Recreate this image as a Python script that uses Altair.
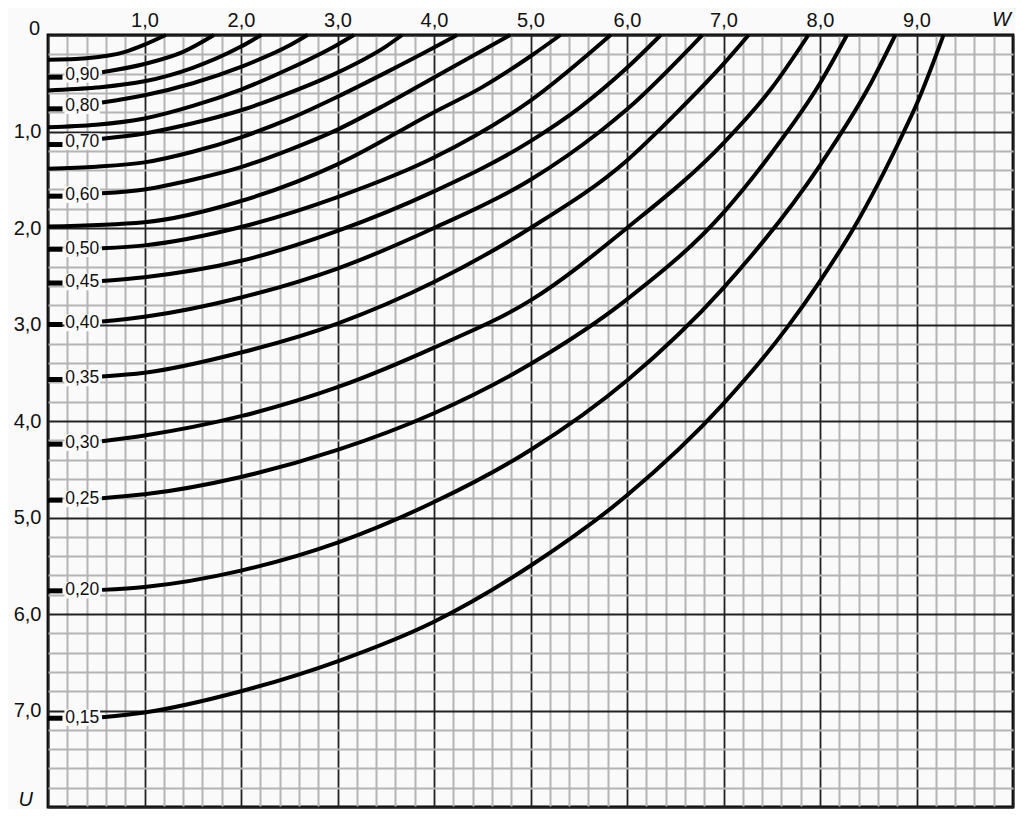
import altair as alt
import pandas as pd
import numpy as np

# ---------------- data ----------------
levels = ["0,95", "0,90", "0,85", "0,80", "0,75", "0,70", "0,65", "0,60", "0,55",
          "0,50", "0,45", "0,40", "0,35", "0,30", "0,25", "0,20", "0,15"]
labeled = [False, True, False, True, False, True, False, True, False,
           True, True, True, True, True, True, True, True]

w_095 = [0, 0.4, 0.8, 1.0, 1.22]
u_095 = [0.257, 0.24, 0.175, 0.10, 0.0]
w_090 = [0, 0.56, 1.0, 1.4, 1.72]
u_090 = [0.437, 0.385, 0.30, 0.175, 0.0]
w_085 = [0, 0.5, 1.0, 1.5, 2.0, 2.21]
u_085 = [0.575, 0.545, 0.48, 0.34, 0.12, 0.0]
w_080 = [0, 0.56, 1.0, 1.5, 2.0, 2.5, 2.69]
u_080 = [0.765, 0.70, 0.625, 0.50, 0.33, 0.11, 0.0]
w_075 = [0, 0.5, 1.0, 1.5, 2.0, 2.5, 3.0, 3.17]
u_075 = [0.955, 0.93, 0.865, 0.735, 0.565, 0.35, 0.10, 0.0]
w_070 = [0, 0.56, 1.0, 1.5, 2.0, 2.5, 3.0, 3.5, 3.67]
u_070 = [1.135, 1.075, 1.02, 0.915, 0.78, 0.60, 0.39, 0.12, 0.0]
w_065 = [0, 0.5, 1.0, 1.5, 2.0, 2.5, 3.0, 3.5, 4.0, 4.24]
u_065 = [1.385, 1.365, 1.32, 1.21, 1.06, 0.87, 0.64, 0.39, 0.13, 0.0]
w_060 = [0, 0.56, 1.0, 1.5, 2.0, 2.5, 3.0, 3.5, 4.0, 4.79]
u_060 = [1.67, 1.64, 1.60, 1.50, 1.37, 1.19, 0.98, 0.72, 0.44, 0.0]
w_055 = [0, 1.0, 2.0, 3.0, 4.0, 4.5, 5.0, 5.31]
u_055 = [1.985, 1.94, 1.72, 1.34, 0.80, 0.54, 0.22, 0.0]
w_050 = [0, 0.56, 1.0, 2.0, 3.0, 4.0, 5.0, 5.83]
u_050 = [2.22, 2.21, 2.18, 1.99, 1.68, 1.27, 0.68, 0.0]
w_045 = [0, 0.56, 1.0, 2.0, 3.0, 4.0, 5.0, 5.5, 6.0, 6.35]
u_045 = [2.57, 2.55, 2.51, 2.34, 2.03, 1.62, 1.10, 0.76, 0.34, 0.0]
w_040 = [0, 0.56, 1.0, 2.0, 3.0, 4.0, 5.0, 5.72, 6.0, 6.78]
u_040 = [3.0, 2.97, 2.92, 2.72, 2.42, 2.0, 1.50, 1.0, 0.77, 0.0]
w_035 = [0, 0.56, 1.0, 2.0, 3.0, 4.0, 5.0, 6.0, 6.5, 7.0, 7.26]
u_035 = [3.57, 3.54, 3.50, 3.29, 2.99, 2.56, 2.0, 1.30, 0.82, 0.30, 0.0]
w_030 = [0, 0.56, 1.0, 2.0, 3.0, 4.0, 5.0, 6.0, 7.0, 7.5, 7.88]
u_030 = [4.24, 4.21, 4.15, 3.95, 3.65, 3.24, 2.75, 2.0, 1.12, 0.55, 0.0]
w_025 = [0, 0.56, 1.0, 2.0, 3.0, 4.0, 5.0, 6.0, 7.0, 7.5, 8.0, 8.28]
u_025 = [4.82, 4.80, 4.76, 4.58, 4.30, 3.92, 3.41, 2.74, 1.84, 1.22, 0.50, 0.0]
w_020 = [0, 0.56, 1.0, 2.0, 3.0, 4.0, 5.0, 6.0, 7.0, 8.0, 8.5, 8.78]
u_020 = [5.76, 5.75, 5.72, 5.55, 5.26, 4.84, 4.30, 3.58, 2.62, 1.35, 0.55, 0.0]
w_015 = [0, 0.56, 1.0, 2.0, 3.0, 4.0, 5.0, 6.0, 7.0, 7.66, 8.0, 8.35, 8.87, 9.0, 9.28]
u_015 = [7.08, 7.07, 7.02, 6.80, 6.49, 6.08, 5.50, 4.77, 3.82, 3.03, 2.55, 2.0, 1.0, 0.72, 0.0]

curve_w = [w_095, w_090, w_085, w_080, w_075, w_070, w_065, w_060, w_055,
           w_050, w_045, w_040, w_035, w_030, w_025, w_020, w_015]
curve_u = [u_095, u_090, u_085, u_080, u_075, u_070, u_065, u_060, u_055,
           u_050, u_045, u_040, u_035, u_030, u_025, u_020, u_015]

x_major = [0, 1, 2, 3, 4, 5, 6, 7, 8, 9, 10]
y_major = [0, 1, 2, 3, 4, 5, 6, 7, 8]
x_minor = [i / 5 for i in range(51) if i % 5]
y_minor = [i / 5 for i in range(41) if i % 5]

# ---------------- styling constants ----------------
BG = "#fafafa"
FONT = "Liberation Sans"
STUB_END = 0.15
CURVE_START = 0.56
LABEL_W = 0.355
BOX_W0, BOX_W1 = 0.17, 0.54
BOX_HALF = 0.085

rows, stubs, labels = [], [], []
for lev, lab, ws, us in zip(levels, labeled, curve_w, curve_u):
    for i, (w, u) in enumerate(zip(ws, us)):
        if lab and w < CURVE_START - 1e-9:
            continue
        rows.append({"level": lev, "W": w, "U": u, "i": i})
    if lab:
        stubs.append({"level": lev, "x0": 0.0, "x1": STUB_END, "U0": us[0]})
        lu = (us[0] + float(np.interp(CURVE_START, ws, us))) / 2
        labels.append({"text": lev, "lw": LABEL_W, "lu": lu,
                       "bx0": BOX_W0, "bx1": BOX_W1,
                       "by0": lu - BOX_HALF, "by1": lu + BOX_HALF})

df = pd.DataFrame(rows)
df_stub = pd.DataFrame(stubs)
df_lab = pd.DataFrame(labels)

xs = alt.Scale(domain=[0, 10], nice=False, zero=False)
ys = alt.Scale(domain=[0, 8], reverse=True, nice=False, zero=False)

lab_expr = "datum.value >= 1 && datum.value <= {m} ? replace(format(datum.value, '.1f'), '.', ',') : ''"

minor = alt.Chart(df).mark_point(opacity=0).encode(
    x=alt.X("W:Q", scale=xs, axis=alt.Axis(orient="bottom", values=x_minor, grid=True,
            gridColor="#b4b4b4", gridWidth=2, labels=False, ticks=False, domain=False, title=None)),
    y=alt.Y("U:Q", scale=ys, axis=alt.Axis(orient="right", values=y_minor, grid=True,
            gridColor="#b4b4b4", gridWidth=2, labels=False, ticks=False, domain=False, title=None)),
)

major = alt.Chart(df).mark_point(opacity=0).encode(
    x=alt.X("W:Q", scale=xs, axis=alt.Axis(orient="top", values=x_major, grid=True,
            gridColor="#222222", gridWidth=1.8, ticks=False, domain=False, title=None,
            labelExpr=lab_expr.format(m=9), labelFont=FONT, labelFontSize=20,
            labelColor="#111", labelPadding=5, labelFlush=False, labelOverlap=False)),
    y=alt.Y("U:Q", scale=ys, axis=alt.Axis(orient="left", values=y_major, grid=True,
            gridColor="#222222", gridWidth=1.8, ticks=False, domain=False, title=None,
            labelExpr=lab_expr.format(m=7), labelFont=FONT, labelFontSize=20,
            labelColor="#111", labelPadding=7, labelFlush=False, labelOverlap=False)),
)

lines = alt.Chart(df).mark_line(color="black", strokeWidth=4, interpolate="monotone").encode(
    x=alt.X("W:Q", scale=xs, axis=None),
    y=alt.Y("U:Q", scale=ys, axis=None),
    detail="level:N",
    order="i:Q",
)

stub_layer = alt.Chart(df_stub).mark_rule(color="black", strokeWidth=5, strokeCap="butt").encode(
    x=alt.X("x0:Q", scale=xs, axis=None),
    x2="x1:Q",
    y=alt.Y("U0:Q", scale=ys, axis=None),
)

boxes = alt.Chart(df_lab).mark_rect(color=BG).encode(
    x=alt.X("bx0:Q", scale=xs, axis=None), x2="bx1:Q",
    y=alt.Y("by0:Q", scale=ys, axis=None), y2="by1:Q",
)

texts = alt.Chart(df_lab).mark_text(font=FONT, fontSize=17.5, color="#111",
                                     align="center", baseline="middle").encode(
    x=alt.X("lw:Q", scale=xs, axis=None),
    y=alt.Y("lu:Q", scale=ys, axis=None),
    text="text:N",
)

corner = pd.DataFrame({"t": ["0"], "W": [0.0], "U": [0.0]})
w_lab = pd.DataFrame({"t": ["W"], "W": [10.0], "U": [0.0]})
u_lab = pd.DataFrame({"t": ["U"], "W": [0.0], "U": [8.0]})

t0 = alt.Chart(corner).mark_text(font=FONT, fontSize=20, color="#111", align="right",
                                 baseline="middle", dx=-8, dy=-6).encode(
    x=alt.X("W:Q", scale=xs, axis=None), y=alt.Y("U:Q", scale=ys, axis=None), text="t:N")
tw = alt.Chart(w_lab).mark_text(font=FONT, fontSize=20, fontStyle="italic", color="#111",
                                align="right", baseline="middle", dx=-2, dy=-15).encode(
    x=alt.X("W:Q", scale=xs, axis=None), y=alt.Y("U:Q", scale=ys, axis=None), text="t:N")
tu = alt.Chart(u_lab).mark_text(font=FONT, fontSize=20, fontStyle="italic", color="#111",
                                align="right", baseline="middle", dx=-15, dy=-7).encode(
    x=alt.X("W:Q", scale=xs, axis=None), y=alt.Y("U:Q", scale=ys, axis=None), text="t:N")

chart = alt.layer(minor, major, lines, stub_layer, boxes, texts, t0, tw, tu).resolve_axis(
    x="independent", y="independent"
).properties(
    width=965, height=772,
    autosize=alt.AutoSizeParams(type="none"),
    padding={"left": 40, "top": 27, "right": 2, "bottom": 2},
    background=BG,
).configure_view(stroke="black", strokeWidth=2.8, fill=BG)

chart.save("out.html", embed_options={"renderer": "svg", "actions": False})
